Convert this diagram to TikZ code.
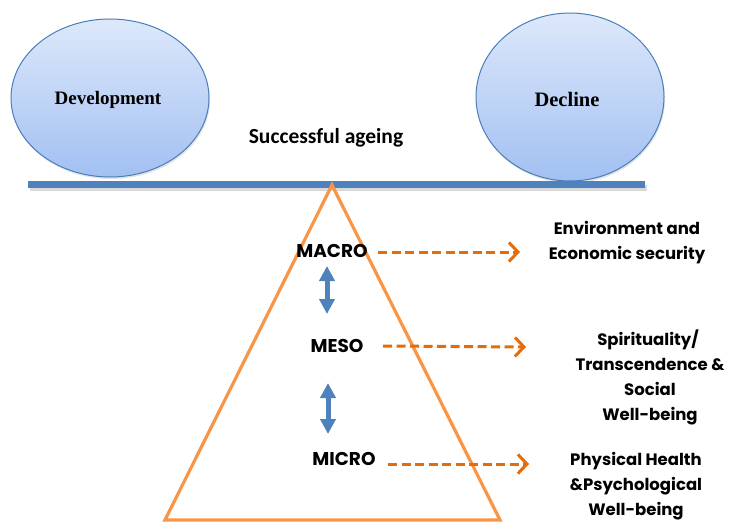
\documentclass[tikz,border=0pt]{standalone}
\usepackage{fontspec}
\setmainfont{Liberation Serif}
\newfontfamily\calfont{Carlito}
\newfontfamily\popfont{Poppins}
\usetikzlibrary{arrows.meta,shapes.geometric}
\definecolor{beamblue}{HTML}{4F81BD}
\definecolor{triorange}{HTML}{F79646}
\definecolor{dashorange}{HTML}{E46C0A}
\definecolor{elltop}{HTML}{DDE8FA}
\definecolor{ellbot}{HTML}{A2C0F2}
\definecolor{ellborder}{HTML}{4A7EBB}
\tikzset{
  ball/.style={ellipse, draw=ellborder, line width=1pt, top color=elltop, bottom color=ellbot, inner sep=0pt},
  balltext/.style={font=\bfseries\fontsize{19}{22}\selectfont},
  level/.style={font=\popfont\bfseries\fontsize{18.5}{22}\selectfont, inner sep=1pt},
  factor/.style={font=\popfont\bfseries\fontsize{16.5}{25}\selectfont, align=center, inner sep=0pt},
  linkarrow/.style={dashorange, line width=3pt, dash pattern=on 9pt off 4.5pt, -{Straight Barb[length=9pt,width=19pt,line width=3pt]}},
  updown/.style={beamblue, line width=5pt, {Triangle[length=15pt,width=15pt]}-{Triangle[length=15pt,width=15pt]}}
}
\begin{document}
\begin{tikzpicture}[x=1pt,y=-1pt]
\useasboundingbox (0,0) rectangle (733,524);
\fill[white] (0,0) rectangle (733,524);
% balls
\fill[gray!22] (111,100) ellipse [x radius=99, y radius=79];
\node[ball, minimum width=198pt, minimum height=158pt] (dev) at (110,98) {};
\node[balltext] (devt) at (108,100) {Development};
\fill[gray!22] (571,99) ellipse [x radius=94, y radius=84];
\node[ball, minimum width=188pt, minimum height=168pt] (dec) at (570,97) {};
\node[balltext, font=\bfseries\fontsize{20.5}{24}\selectfont] (dect) at (567,99) {Decline};
% title
\node[font=\calfont\bfseries\fontsize{21.5}{24}\selectfont] (title) at (326,138) {Successful ageing};
% beam
\fill[gray!30] (30,185) rectangle (647,191);
\fill[beamblue] (28,181) rectangle (645,188);
% triangle
\coordinate (apex) at (332,185);
\coordinate (bl) at (165,520);
\coordinate (br) at (500,520);
\draw[triorange, line width=3.2pt, line join=miter] (apex) -- (br) -- (bl) -- cycle;
% levels
\node[level] (macro) at (332,251) {MACRO};
\node[level] (meso) at (337,346) {MESO};
\node[level] (micro) at (344,459) {MICRO};
% up-down arrows
\coordinate (u1a) at (327,266);
\coordinate (u1b) at (327,314);
\draw[updown] (u1a) -- (u1b);
\coordinate (u2a) at (328,383);
\coordinate (u2b) at (328,434);
\draw[updown] (u2a) -- (u2b);
% factors
\node[factor] (env) at (627,243) {Environment and\\Economic security};
\node[factor] (spi) at (650,377) {\hspace*{-4pt}Spirituality/\\Transcendence \&\\Social\\Well-being};
\node[factor] (phy) at (636,486) {Physical Health\\\&Psychological\\Well-being};
% dashed links
\coordinate (s1) at (378,252);
\coordinate (s2) at (383,346);
\coordinate (s3) at (388,464);
\coordinate (e1) at (520,252);
\coordinate (e2) at (526,347);
\coordinate (e3) at (529,464);
\draw[linkarrow] (s1) -- (e1);
\draw[linkarrow] (s2) -- (e2);
\draw[linkarrow] (s3) -- (e3);
\end{tikzpicture}
\end{document}
